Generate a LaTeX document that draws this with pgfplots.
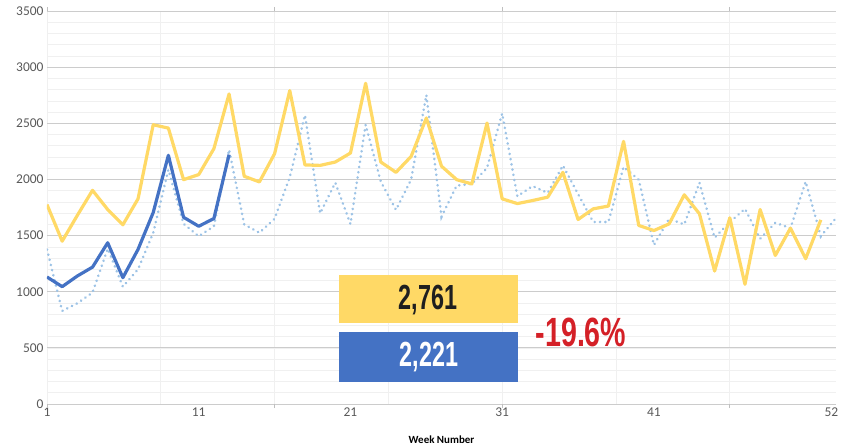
\documentclass[border=0pt]{standalone}
\usepackage{pgfplots}
\pgfplotsset{compat=1.18}
\usepackage{graphicx}
\usepackage{fontspec}
\setmainfont{Carlito}
\newfontfamily\boldnum{Liberation Sans}
\definecolor{yel}{HTML}{FFD966}
\definecolor{blu}{HTML}{4472C4}
\definecolor{lblu}{HTML}{9DC3E6}
\definecolor{myred}{HTML}{D42027}
\definecolor{tickgray}{HTML}{595959}
\begin{document}
\begin{tikzpicture}
\begin{axis}[
  scale only axis, width=789bp, height=393bp,
  xmin=1, xmax=53, ymin=0, ymax=3500,
  axis line style={draw=none},
  xtick={1,11,21,31,41,52.7}, xticklabels={1,11,21,31,41,52},
  ytick={0,500,...,3500},
  minor ytick={100,200,...,3400},
  minor xtick={1,8.5,16,23.5,31,38.5,46},
  ymajorgrids, yminorgrids, xminorgrids,
  major grid style={draw=gray!40, line width=0.9bp},
  minor grid style={draw=gray!12, line width=0.6bp},
  tick style={draw=none},
  extra x ticks={1,16,31,46}, extra x tick labels={},
  extra x tick style={tick style={draw=gray!50, line width=0.8bp}, major tick length=4bp, tick align=outside},
  ticklabel style={font=\fontsize{13.5}{13.5}\selectfont, text=tickgray},
  /pgf/number format/assume math mode=true,
  yticklabel style={/pgf/number format/1000 sep={}},
  xlabel={\textbf{Week Number}},
  xlabel style={font=\fontsize{11}{11}\selectfont, text=black, at={(axis description cs:0.5,0)}, anchor=center, yshift=-36bp},
]
\coordinate (O) at (rel axis cs:0,0);
% last year (dotted)
\addplot[lblu, line width=2.6bp, dash pattern=on 0.3bp off 5bp, line cap=round] coordinates {
(1,1377)(2,829)(3,897)(4,992)(5,1383)(6,1045)(7,1199)(8,1525)(9,2087)(10,1605)
(11,1494)(12,1583)(13,2265)(14,1599)(15,1525)(16,1650)(17,2020)(18,2573)(19,1698)(20,1971)
(21,1603)(22,2487)(23,1980)(24,1729)(25,2000)(26,2752)(27,1668)(28,1945)(29,1960)(30,2102)
(31,2588)(32,1850)(33,1941)(34,1880)(35,2124)(36,1870)(37,1621)(38,1621)(39,2111)(40,1998)
(41,1416)(42,1650)(43,1599)(44,1971)(45,1481)(46,1620)(47,1738)(48,1472)(49,1614)(50,1566)
(51,1980)(52,1494)(53,1656)};
% yellow
\addplot[yel, line width=3.2bp, line join=round] coordinates {
(1,1776)(2,1450)(3,1680)(4,1903)(5,1732)(6,1596)(7,1827)(8,2487)(9,2457)(10,1998)
(11,2043)(12,2274)(13,2761)(14,2028)(15,1978)(16,2229)(17,2791)(18,2129)(19,2125)(20,2155)
(21,2235)(22,2856)(23,2155)(24,2063)(25,2205)(26,2547)(27,2118)(28,1998)(29,1960)(30,2502)
(31,1827)(32,1785)(33,1812)(34,1842)(35,2063)(36,1643)(37,1738)(38,1763)(39,2339)(40,1590)
(41,1545)(42,1604)(43,1863)(44,1694)(45,1184)(46,1658)(47,1066)(48,1732)(49,1323)(50,1566)
(51,1294)(52,1640)};
% blue
\addplot[blu, line width=3.2bp, line join=round] coordinates {
(1,1131)(2,1045)(3,1140)(4,1219)(5,1436)(6,1125)(7,1377)(8,1705)(9,2215)(10,1663)
(11,1583)(12,1652)(13,2221)};
\end{axis}
\begin{scope}[shift={(O)}]
\fill[yel] (292bp,81bp) rectangle (471bp,129bp);
\fill[blu] (292bp,22bp) rectangle (471bp,72bp);
\node[text=black!88] at (381bp,104bp) {\scalebox{0.67}[1]{\fontsize{35}{35}\boldnum\bfseries 2,761}};
\node[text=white] at (382bp,47bp) {\scalebox{0.67}[1]{\fontsize{35}{35}\boldnum\bfseries 2,221}};
\node[text=myred] at (534bp,72bp) {\scalebox{0.70}[1]{\fontsize{41}{41}\boldnum\bfseries -19.6\%}};
\end{scope}
\pgfresetboundingbox
\path[shift={(O)}] (-47bp,-43bp) rectangle (800bp,404bp);
\end{tikzpicture}
\end{document}
